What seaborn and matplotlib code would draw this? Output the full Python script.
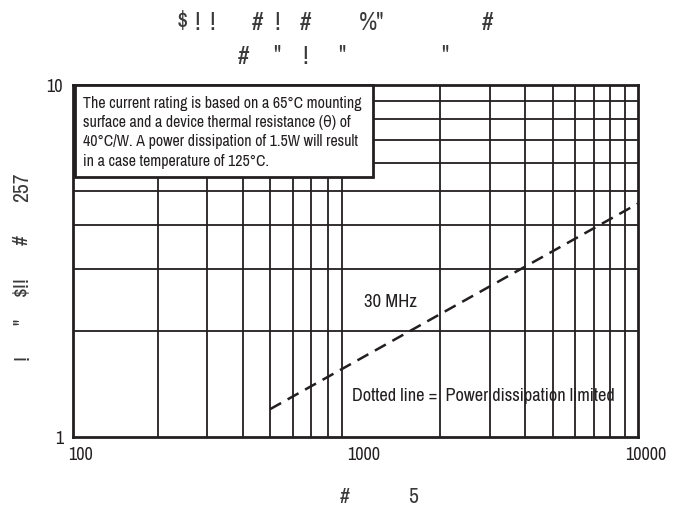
import matplotlib
matplotlib.use("Agg")
import matplotlib.pyplot as plt
import matplotlib.transforms as mtransforms
from matplotlib import font_manager
from matplotlib.patches import Rectangle
import pandas as pd
import seaborn as sns

# ---- data -------------------------------------------------------------
freq_mhz = [500, 10000]          # end points of the dissipation-limited line
current_limit = [1.2, 4.6]
x_ticks = [100, 1000, 10000]
x_tick_labels = ["100", "1000", "10000"]
y_ticks = [1, 10]
y_tick_labels = ["1", "10"]
x_minor = [200, 300, 400, 500, 600, 700, 800, 900,
           2000, 3000, 4000, 5000, 6000, 7000, 8000, 9000]
y_minor = [2, 3, 4, 5, 6, 7, 8, 9]

note_lines = ["The current rating is based on a 65\u00b0C mounting",
              "surface and a device thermal resistance (\u03b8) of",
              "40\u00b0C/W. A power dissipation of 1.5W will result",
              "in a case temperature of 125\u00b0C."]
curve_label = "30 MHz"
legend_note = "Dotted line =  Power dissipation limited"

# header / axis-title glyph runs (x, y in figure pixels)
title_row1 = [("$", 182), ("!", 197), ("!", 212), ("#", 258), ("!", 277),
              ("#", 305), ("%\"", 372), ("#", 488)]
title_row2 = [("#", 243), ("\"", 277), ("!", 305), ("\"", 342), ("\"", 445)]
ylabel_runs = [("257", 187), ("#", 240), ("$!!", 286), ("\"", 322), ("!", 358)]
xlabel_runs = [("#", 345), ("5", 413)]

# ---- style ------------------------------------------------------------
sns.set_theme(style="white")


def pick_narrow_face():
    """Most condensed regular sans face available: (family, stretch)."""
    best = None
    for f in font_manager.fontManager.ttflist:
        if f.style != "normal" or f.weight not in (400, "normal", "regular"):
            continue
        if "Mono" in f.name or "Serif" in f.name:
            continue
        if "Narrow" in f.name:
            rank = 0
        elif f.stretch in ("condensed",) or "Condensed" in f.name:
            rank = 1
        elif f.stretch == "semi-condensed":
            rank = 2
        else:
            continue
        if best is None or rank < best[0]:
            best = (rank, f.name, f.stretch)
    if best is None:
        return "Liberation Sans", "normal"
    return best[1], best[2]


fam, stretch = pick_narrow_face()
plt.rcParams["font.family"] = [fam, "DejaVu Sans"]
plt.rcParams["font.stretch"] = stretch

W, H = 684, 508
fig = plt.figure(figsize=(W / 100, H / 100), dpi=100)
L, R, T, B = 72.7, 637.7, 85, 437
ax = fig.add_axes([L / W, 1 - B / H, (R - L) / W, (B - T) / H])

ink = "#231f20"
ax.set_xscale("log")
ax.set_yscale("log")
ax.set_xlim(100, 10000)
ax.set_ylim(1, 10)

for v in x_minor:
    ax.axvline(v, color=ink, lw=1.3, zorder=1)
for v in y_minor:
    ax.axhline(v, color=ink, lw=1.3, zorder=1)

df = pd.DataFrame({"freq": freq_mhz, "current": current_limit})
sns.lineplot(data=df, x="freq", y="current", ax=ax, color=ink, lw=1.8,
             linestyle=(0, (5, 3)), zorder=3)

ax.set_xlabel("")
ax.set_ylabel("")
ax.minorticks_off()
ax.set_xticks(x_ticks)
ax.set_xticklabels(x_tick_labels)
ax.set_yticks(y_ticks)
ax.set_yticklabels(y_tick_labels)
ax.tick_params(axis="both", length=3, width=1.2, color=ink, labelsize=13,
               labelcolor=ink, direction="out", pad=4)
ax.tick_params(axis="y", pad=4)
shift = mtransforms.ScaledTranslation(8 / 100, 0, fig.dpi_scale_trans)
for lab in ax.get_xticklabels():
    lab.set_transform(lab.get_transform() + shift)

for s in ax.spines.values():
    s.set_color(ink)
    s.set_linewidth(2.0)
    s.set_zorder(5)

# note box in the upper-left corner
bx0, by0, bx1, by1 = 75, 85, 373, 177
box = Rectangle((bx0 / W, 1 - by1 / H), (bx1 - bx0) / W, (by1 - by0) / H,
                transform=fig.transFigure, facecolor="white", edgecolor=ink,
                lw=2.0, zorder=6)
fig.add_artist(box)
note_baselines = [107.7, 126.9, 146.2, 165.8]
note_texts = [fig.text(83 / W, 1 - yb / H, line, ha="left", va="baseline",
                       fontsize=10.5, color=ink, zorder=7)
              for line, yb in zip(note_lines, note_baselines)]

t_curve = fig.text(364 / W, 1 - 307 / H, curve_label, ha="left", va="baseline",
                   fontsize=12, color=ink)
t_legend = fig.text(352 / W, 1 - 400.5 / H, legend_note, ha="left", va="baseline",
                    fontsize=11.5, color=ink)

# size the annotation texts to the widths they occupy on the chart
fig.canvas.draw()
rend = fig.canvas.get_renderer()


def fit_width(artists, ref, target_px):
    w = ref.get_window_extent(rend).width
    scale = target_px / w
    for a in artists:
        a.set_fontsize(a.get_fontsize() * scale)


fit_width(note_texts, note_texts[0], 279)
fit_width([t_curve], t_curve, 53)
fit_width([t_legend], t_legend, 263)

gray = "#3a3a3a"
for s, x in title_row1:
    fig.text(x / W, 1 - 22 / H, s, ha="center", va="center", fontsize=18, color=gray)
for s, x in title_row2:
    fig.text(x / W, 1 - 56 / H, s, ha="center", va="center", fontsize=18, color=gray)
for s, y in ylabel_runs:
    fig.text(22 / W, 1 - y / H, s, ha="center", va="center", rotation=90,
             fontsize=15.5, color=gray)
for s, x in xlabel_runs:
    fig.text(x / W, 1 - 497 / H, s, ha="center", va="center", fontsize=15.5, color=gray)

fig.savefig("out.png", dpi=100, facecolor="white")
